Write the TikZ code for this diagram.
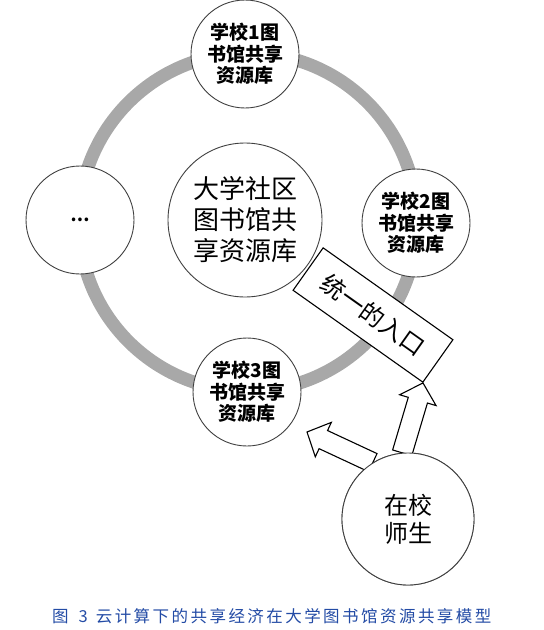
\documentclass[tikz,border=0pt]{standalone}
\usepackage{fontspec}
\newfontfamily\cjk{Noto Sans CJK SC}
\usetikzlibrary{calc}
\definecolor{ringgray}{RGB}{168,168,168}
\definecolor{capblue}{RGB}{35,75,165}
\newcommand{\ks}{\kern2.45pt}
\begin{document}
\begin{tikzpicture}[x=1pt,y=-1pt,
  lib/.style={circle, draw=black!75, line width=0.9pt, fill=white, inner sep=0pt,
    minimum size=108pt, align=center, font=\cjk\bfseries\fontsize{19}{21.5}\selectfont},
  hub/.style={circle, draw=black!75, line width=0.9pt, fill=white, inner sep=0pt,
    minimum size=154pt, align=center, font=\cjk\fontsize{26}{31}\selectfont},
  user/.style={circle, draw=black!75, line width=0.9pt, fill=white, inner sep=0pt,
    minimum size=132pt, align=center, font=\cjk\fontsize{24}{28}\selectfont},
  entrybox/.style={draw=black, line width=1.1pt, fill=white, inner sep=0pt,
    minimum width=159pt, minimum height=52pt, font=\cjk\fontsize{24}{24}\selectfont},
  barrow/.style={draw=black, line width=1.1pt, fill=white, line join=miter},
  ring/.style={draw=ringgray, line width=13pt}
]
\useasboundingbox (0,0) rectangle (544,630);
% ring
\draw[ring] (248,222) circle[radius=169];
% library circles
\node[lib] (s1) at (245,54) {学校1图\\书馆共享\\资源库};
\node[lib] (s2) at (416,223) {学校2图\\书馆共享\\资源库};
\node[lib] (s3) at (247,392) {学校3图\\书馆共享\\资源库};
\node[lib, font=\cjk\bfseries\fontsize{17}{17}\selectfont] (sx) at (80,220) {…};
% central hub
\node[hub] (hub) at (245,220) {大学社区\\图书馆共\\享资源库};
% unified entrance
\node[entrybox, rotate=-35.3] (entry) at (373,315) {统一的入口};
% teacher/student node (for anchors)
\node[user] (stu) at (408,519) {};
% arrows
\coordinate (b1) at (stu.95);
\coordinate (t1) at (entry.south east);
\coordinate (h1) at ($(t1)!18pt!(b1)$);
\draw[barrow] ($(b1)!10pt!90:(t1)$) -- ($(h1)!10pt!90:(t1)$) -- ($(h1)!19pt!90:(t1)$)
  -- (t1) -- ($(h1)!19pt!-90:(t1)$) -- ($(h1)!10pt!-90:(t1)$) -- ($(b1)!10pt!-90:(t1)$) -- cycle;
\coordinate (b2) at (stu.122);
\coordinate (t2) at (307,432);
\coordinate (h2) at ($(t2)!18pt!(b2)$);
\draw[barrow] ($(b2)!10pt!90:(t2)$) -- ($(h2)!10pt!90:(t2)$) -- ($(h2)!19pt!90:(t2)$)
  -- (t2) -- ($(h2)!19pt!-90:(t2)$) -- ($(h2)!10pt!-90:(t2)$) -- ($(b2)!10pt!-90:(t2)$) -- cycle;
% student circle on top of arrow bases
\node[user] (stu2) at (408,519) {在校\\师生};
% caption
\node[anchor=west, inner sep=0pt, text=capblue, font=\cjk\fontsize{16.5}{16.5}\selectfont] (cap) at (52,616)
  {图\kern10pt 3\kern8pt 云\ks 计\ks 算\ks 下\ks 的\ks 共\ks 享\ks 经\ks 济\ks 在\ks 大\ks 学\ks 图\ks 书\ks 馆\ks 资\ks 源\ks 共\ks 享\ks 模\ks 型};
\end{tikzpicture}
\end{document}
